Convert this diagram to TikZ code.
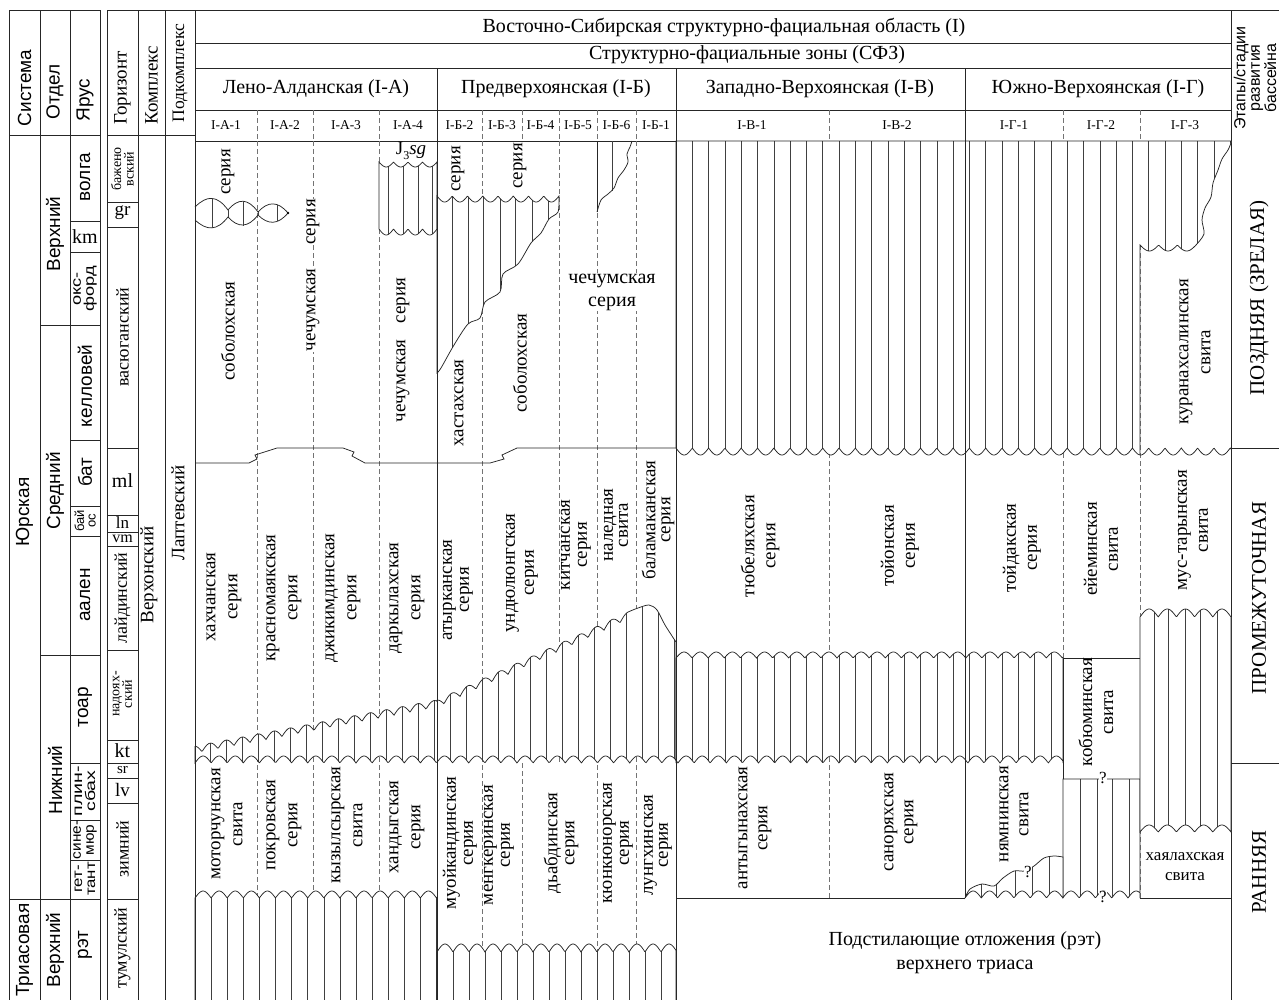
\documentclass[tikz,border=0pt]{standalone}
\usepackage{fontspec}
\usepackage{graphicx}
\setmainfont{Liberation Serif}
\newfontfamily\sansf{Liberation Sans}
\newcommand\fsz[2]{\fontsize{#1}{#2}\selectfont}
\tikzset{
 frame/.style={line width=0.9pt, draw=black!85},
 thinline/.style={line width=0.75pt, draw=black!85},
 hatchline/.style={line width=0.6pt, draw=black!75},
 dashln/.style={line width=0.6pt, draw=black!55, dash pattern=on 5pt off 3pt},
 tx/.style={inner sep=0pt, font=\fsz{#1}{#1}},
 txs/.style={inner sep=0pt, font=\sansf\fsz{#1}{#1}},
 rt/.style 2 args={rotate=90, align=center, inner sep=0.5pt, font=\fsz{#1}{#2}},
 rts/.style 2 args={rotate=90, align=center, inner sep=0.5pt, font=\sansf\fsz{#1}{#2}},
 wf/.style={fill=white},
}
\newcommand\hreg[2]{%
  \fill[white] #1;
  \begin{scope}\clip #1;
    \foreach \hx in {#2} {\draw[hatchline] (\hx,100) -- (\hx,1010);}
  \end{scope}
  \draw[thinline] #1;
}
\begin{document}
\begin{tikzpicture}[x=1pt,y=-1pt]
\useasboundingbox (0,0) rectangle (1279,999);

% ---------- left table 1 ----------
\draw[frame] (9,10) -- (100,10);
\foreach \xx in {9,40,70,100} \draw[frame] (\xx,10) -- (\xx,1005);
\draw[frame] (9,135) -- (100,135);
\draw[frame] (9,899) -- (100,899);
\draw[frame] (40,325) -- (100,325);
\draw[frame] (40,655) -- (100,655);
\foreach \yy in {221,252,440,506,536,763,820,860} \draw[thinline] (70,\yy) -- (100,\yy);

% ---------- left table 2 ----------
\draw[frame] (107,10) -- (1279,10);
\foreach \xx in {107,138,165,195} \draw[frame] (\xx,10) -- (\xx,1005);
\draw[frame] (107,135) -- (195,135);
\foreach \yy in {202,227,448,515,532,546,650,740,763,778,803,899} \draw[thinline] (107,\yy) -- (138,\yy);

% ---------- main header ----------
\foreach \yy in {43,68,110,141} \draw[frame] (195,\yy) -- (1231,\yy);
\draw[frame] (1231,10) -- (1231,1005);
\foreach \xx in {257,313,379,482,522,559,597,636,829,1063,1140} \draw[dashln] (\xx,110) -- (\xx,141);

% ---------- dashed sub-zone lines ----------
\foreach \xx in {257,313,379,482,597,636} \draw[dashln] (\xx,141) -- (\xx,1005);
\draw[dashln] (559,141) -- (559,763);
\draw[dashln] (522,763) -- (522,1005);
\foreach \xx in {829,1063,1140} \draw[dashln] (\xx,141) -- (\xx,898);

% ---------- hatched regions ----------
% J3sg block
\hreg{(379,162) -- plot[domain=379:437,samples=80,variable=\x] (\x,{162+5*abs(sin(((\x-379)/14.5)*180))}) -- (437,229) -- plot[domain=437:379,samples=80,variable=\x] (\x,{229+6*abs(sin(((\x-379)/14.5)*180))}) -- cycle}{388,403,418,432}
% I-B triangle
\hreg{(437,196) -- plot[domain=437:559,samples=150,variable=\x] (\x,{196+6*abs(sin(((\x-437)/15.25)*180))}) -- plot[smooth] coordinates {(559,197) (558,212) (549,219) (541,233) (531,243) (518,264) (503,274) (500,292) (485,302) (480,318) (468,324) (454,345) (441,368) (437,373)} -- cycle}{452,468,483,500,515,532,548}
% upper I-V / I-G big block
\hreg{(676,141) -- (1231,141) -- plot[smooth] coordinates {(1231,143) (1228,150) (1222,159) (1218,170) (1213,183) (1211,197) (1205,208) (1202,220) (1204,234) (1196,245)} -- plot[domain=1196:1140,samples=60,variable=\x] (\x,{245+6*abs(sin(((\x-1140)/18.67)*180))}) -- (1140,448) -- plot[domain=1140:676,samples=500,variable=\x] (\x,{448+7*abs(sin(((\x-676)/16.3)*180))}) -- cycle}{692.3,708.6,...,1231}
\draw[thinline] plot[domain=1140:1231,samples=120,variable=\x] (\x,{448+7*abs(sin(((\x-676)/16.3)*180))});
% sloping band I-A / I-B
\hreg{(195,746) -- plot[domain=195:437,samples=260,variable=\x] (\x,{753-0.19*(\x-195)-7*abs(sin(((\x-202)/16)*180))}) -- plot[domain=437:628,samples=200,variable=\x] (\x,{707-0.46*(\x-437)-7*abs(sin(((\x-444)/16)*180))}) -- plot[smooth] coordinates {(628,612) (638,608) (649,605) (657,610) (665,625) (676,642)} -- (676,763) -- plot[domain=676:195,samples=500,variable=\x] (\x,{763-7*abs(sin(((\x-195)/16.1)*180))}) -- cycle}{210,226,...,676}
% band I-V / I-G-1
\hreg{(676,658) -- plot[domain=676:1063,samples=400,variable=\x] (\x,{658-6*abs(sin(((\x-676)/16.1)*180))}) -- (1063,763) -- plot[domain=1063:676,samples=400,variable=\x] (\x,{763-7*abs(sin(((\x-195)/16.1)*180))}) -- cycle}{692.3,708.6,...,1063}
% kobyuminskaya box
\fill[white] (1063,658) rectangle (1140,779);
\draw[thinline] (1063,658) rectangle (1140,779);
% underlying deposits
\fill[white] (676,898) rectangle (1231,1005);
\draw[thinline] (676,898) -- (965,898);
\draw[thinline] (1140,898) -- (1231,898);
% I-G-2 lower
\hreg{(1063,779) -- (1140,779) -- (1140,898) -- plot[domain=1140:1063,samples=90,variable=\x] (\x,{898-7*abs(sin(((\x-965)/16.3)*180))}) -- cycle}{1080,1097,1112,1129}
% I-G-1 stair
\hreg{(965,898) -- plot[smooth] coordinates {(965,898) (970,889) (982,884) (994,886) (1003,878) (1014,871) (1025,871) (1034,866) (1044,858) (1054,856) (1063,857)} -- (1063,898) -- plot[domain=1063:965,samples=110,variable=\x] (\x,{898-7*abs(sin(((\x-965)/16.3)*180))}) -- cycle}{981,996,1015,1032,1049}
% I-G-3 middle
\hreg{(1140,617) -- plot[domain=1140:1231,samples=110,variable=\x] (\x,{617-8*abs(sin(((\x-1140)/18.2)*180))}) -- (1231,832) -- plot[domain=1231:1140,samples=110,variable=\x] (\x,{832-7*abs(sin(((\x-1140)/18.2)*180))}) -- cycle}{1154,1168,1185,1200,1217}
% I-A lower
\hreg{(195,898) -- plot[domain=195:437,samples=260,variable=\x] (\x,{898-7*abs(sin(((\x-195)/16.1)*180))}) -- (437,1010) -- (195,1010) -- cycle}{211.1,227.2,...,437}
% I-B lower
\hreg{(437,952) -- plot[domain=437:676,samples=260,variable=\x] (\x,{952-8*abs(sin(((\x-437)/16)*180))}) -- (676,1010) -- (437,1010) -- cycle}{453,469,...,676}

% ---------- boundary Upper/Middle in I-A, I-B ----------
\draw[thinline] (195,463) -- (249,463) -- (257,459) -- (255,455) -- (277,448) -- (343,448) -- (354,452) -- (352,456) -- (365,463) -- (490,463) -- (504,459) -- (502,455) -- (517,448) -- (676,448);

% lenses I-A-1/2
\draw[thinline] (195,207) .. controls (207,195) and (217,195) .. (228,210) .. controls (238,198) and (248,198) .. (258,212) .. controls (268,201) and (278,201) .. (288,213);
\draw[thinline] (195,220) .. controls (207,231) and (217,231) .. (228,217) .. controls (238,228) and (248,228) .. (258,215) .. controls (268,225) and (278,225) .. (288,213);
\draw[hatchline] (212,198) -- (212,228);
\draw[hatchline] (228,210) -- (228,217);
\draw[hatchline] (243,201) -- (243,226);
\draw[hatchline] (258,212) -- (258,215);
\draw[hatchline] (277,205) -- (277,221);
\fill (288,213) circle (1.3);

% I-B-6 top block
\draw[thinline] (597,141) -- (597,212);
\draw[hatchline] (612,141) -- (612,191);
\draw[thinline] plot[smooth] coordinates {(597,212) (601,200) (608,194) (614,188) (618,178) (624,170) (628,162) (627,154) (630,147) (632,141)};

% stage column
\draw[frame] (1231,448) -- (1279,448);
\draw[frame] (1231,763) -- (1279,763);

% zone borders
\draw[frame] (195,10) -- (195,1005);
\draw[frame] (437,68) -- (437,1005);
\draw[frame] (676,68) -- (676,1005);
\draw[frame] (965,68) -- (965,898);

% ---------- texts: left tables ----------
\node[rts={19}{19}] (hSys) at (24.5,88) {Система};
\node[rts={19}{19}] (hOtd) at (55,92) {Отдел};
\node[rts={19}{19}] (hYar) at (85,100) {Ярус};
\node[rt={19}{19}] (hGor) at (122.5,88) {Горизонт};
\node[rt={19}{19}] (hKom) at (151.5,85) {Комплекс};
\node[rt={17.5}{17.5}] (hPod) at (180,73) {Подкомплекс};

\node[rts={19}{19}] (sJ) at (24.5,512) {Юрская};
\node[rts={19}{19}] (sT) at (24.5,950) {Триасовая};
\node[rts={19}{19}] (oU) at (55,234) {Верхний};
\node[rts={19}{19}] (oM) at (55,491) {Средний};
\node[rts={19}{19}] (oL) at (55,780) {Нижний};
\node[rts={19}{19}] (oT) at (55,950) {Верхний};

\node[rts={19}{19}] (y1) at (85,177) {волга};
\node[tx=20] (y2) at (85,237) {km};
\node[rts={14}{13}] (y3) at (85,289) {\scalebox{1.3}[1]{окс-}\\\scalebox{1.3}[1]{форд}};
\node[rts={19}{19}] (y4) at (85,386) {келловей};
\node[rts={19}{19}] (y5) at (85,472) {бат};
\node[rts={13}{11.5}] (y6) at (85,521) {бай\\ос};
\node[rts={19}{19}] (y7) at (85,595) {аален};
\node[rts={19}{19}] (y8) at (85,707) {тоар};
\node[rts={14}{13}] (y9) at (85,791) {\scalebox{1.4}[1]{плин-}\\\scalebox{1.4}[1]{сбах}};
\node[rts={14}{13}] (y10) at (85,840) {\scalebox{1.1}[1]{сине-}\\\scalebox{1.1}[1]{мюр}};
\node[rts={14}{13}] (y11) at (85,879) {\scalebox{1.2}[1]{гет-}\\\scalebox{1.2}[1]{тант}};
\node[rts={19}{19}] (y12) at (85,945) {рэт};

\node[rt={14}{12.5}] (g1) at (122.5,169) {бажено\\вский};
\node[tx=19] (g2) at (122.5,213) {gr};
\node[rt={18}{18}] (g3) at (122.5,337) {васюганский};
\node[tx=20] (g4) at (122.5,481) {ml};
\node[tx=17] (g5) at (122.5,523) {ln};
\node[tx=16] (g6) at (122.5,539) {vm};
\node[rt={18}{18}] (g7) at (122.5,598) {лайдинский};
\node[rt={14}{12.5}] (g8) at (122.5,694) {надоях-\\ский};
\node[tx=20] (g9) at (122.5,751) {kt};
\node[tx=15] (g10) at (122.5,770) {sr};
\node[tx=19] (g11) at (122.5,790) {lv};
\node[rt={18}{18}] (g12) at (122.5,849) {зимний};
\node[rt={18}{18}] (g13) at (122.5,948) {тумулский};

\node[rt={19}{19}] (k1) at (149,575) {Верхонский};
\node[rt={19}{19}] (k2) at (178,513) {Лаптевский};

% ---------- texts: main header ----------
\node[tx=20] (h1) at (724,27) {Восточно-Сибирская структурно-фациальная область (I)};
\node[tx=20] (h2) at (747,55) {Структурно-фациальные зоны (СФЗ)};
\node[tx=20] (z1) at (316,89) {Лено-Алданская (I-А)};
\node[tx=20] (z2) at (556,89) {Предверхоянская (I-Б)};
\node[tx=20] (z3) at (820,89) {Западно-Верхоянская (I-В)};
\node[tx=20] (z4) at (1098,89) {Южно-Верхоянская (I-Г)};
\node[tx=13.5] (s1) at (226,125.5) {I-А-1};
\node[tx=13.5] (s2) at (285,125.5) {I-А-2};
\node[tx=13.5] (s3) at (346,125.5) {I-А-3};
\node[tx=13.5] (s4) at (408,125.5) {I-А-4};
\node[tx=13.5] (s5) at (459.5,125.5) {I-Б-2};
\node[tx=13.5] (s6) at (502,125.5) {I-Б-3};
\node[tx=13.5] (s7) at (540.5,125.5) {I-Б-4};
\node[tx=13.5] (s8) at (578,125.5) {I-Б-5};
\node[tx=13.5] (s9) at (616.5,125.5) {I-Б-6};
\node[tx=13.5] (s10) at (656,125.5) {I-Б-1};
\node[tx=13.5] (s11) at (752,125.5) {I-В-1};
\node[tx=13.5] (s12) at (897,125.5) {I-В-2};
\node[tx=13.5] (s13) at (1014,125.5) {I-Г-1};
\node[tx=13.5] (s14) at (1101,125.5) {I-Г-2};
\node[tx=13.5] (s15) at (1185,125.5) {I-Г-3};
\node[rts={16}{14.5}] (st) at (1255,78) {Этапы/стадии\\развития\\бассейна};

% ---------- texts: upper ----------
\node[rt={19}{19}] (u1) at (228,172) {серия};
\node[rt={19}{19}] (u2) at (228,331) {соболохская};
\node[rt={19}{19}, wf] (u3) at (313,222) {серия};
\node[rt={19}{19}, wf] (u4) at (313,310) {чечумская};
\node[rt={19}{19}] (u5) at (403,350) {чечумская\hspace{16pt}серия};
\node[tx=19] (u6) at (411,151) {J\raisebox{-0.25em}{\fsz{12}{12}3}\textit{sg}};
\node[rt={19}{19}] (u7) at (458,169) {серия};
\node[rt={19}{19}] (u8) at (459,403) {хастахская};
\node[rt={19}{19}] (u9) at (520,166) {серия};
\node[rt={19}{19}] (u10) at (520,363) {соболохская};
\node[tx=20, align=center, font=\fsz{20}{23}, fill=white, inner sep=1pt] (u11) at (612,292) {чечумская\\серия};
\node[rt={19}{22}] (u12) at (1195,352) {куранахсалинская\\свита};
\node[rt={21}{21}] (u13) at (1259,298) {ПОЗДНЯЯ (ЗРЕЛАЯ)};

% ---------- texts: middle ----------
\node[rt={19}{22}] (m1) at (224,597) {хахчанская\\серия};
\node[rt={19}{22}] (m2) at (284,598) {красномаякская\\серия};
\node[rt={19}{22}] (m3) at (343,598) {джикимдинская\\серия};
\node[rt={19}{22}] (m4) at (407,598) {даркылахская\\серия};
\node[rt={19}{17}] (m5) at (458,590) {атырканская\\серия};
\node[rt={19}{19}] (m6) at (522,573) {ундюлюнгская\\серия};
\node[rt={19}{17}] (m7) at (576,545) {китчанская\\серия};
\node[rt={19}{15}] (m8) at (616,525) {наледная\\свита};
\node[rt={19}{15}] (m9) at (658,520) {баламаканская\\серия};
\node[rt={19}{21}] (m10) at (760,546) {тюбеляхская\\серия};
\node[rt={19}{21}] (m11) at (900,546) {тойонская\\серия};
\node[rt={19}{21}] (m12) at (1022,548) {тойдакская\\серия};
\node[rt={19}{21}] (m13) at (1101,549) {ейеминская\\свита};
\node[rt={19}{21}] (m14) at (1193,530) {мус-тарынская\\свита};
\node[rt={21}{21}] (m15) at (1259,598) {ПРОМЕЖУТОЧНАЯ};
\node[rt={19}{21}] (m16) at (1096,712) {кобюминская\\свита};

% ---------- texts: lower ----------
\node[rt={19}{22}] (l1) at (227,824) {моторчунская\\свита};
\node[rt={19}{22}] (l2) at (284,825) {покровская\\серия};
\node[rt={19}{22}] (l3) at (347,825) {кызылсырская\\свита};
\node[rt={19}{22}] (l4) at (407,827) {хандыгская\\серия};
\node[rt={19}{17}] (l5) at (460,843) {муойкандинская\\серия};
\node[rt={19}{17}] (l6) at (499,845) {менгкеринская\\серия};
\node[rt={19}{17}] (l7) at (561,843) {дьабдинская\\серия};
\node[rt={19}{17}] (l8) at (618,843) {кюнкюнорская\\серия};
\node[rt={19}{15}] (l9) at (658,845) {лунгхинская\\серия};
\node[rt={19}{20}] (l10) at (755,828) {антыгынахская\\серия};
\node[rt={19}{20}] (l11) at (901,822) {саноряхская\\серия};
\node[rt={19}{20}] (l12) at (1014,814) {нямнинская\\свита};
\node[align=center, inner sep=0pt, font=\fsz{17}{20}] (l13) at (1185,867) {хаялахская\\свита};
\node[align=center, inner sep=0pt, font=\fsz{20}{24}] (l14) at (965,953) {Подстилающие отложения (рэт)\\верхнего триаса};
\node[rt={21}{21}] (l15) at (1259,872) {РАННЯЯ};
\node[tx=17, fill=white, inner sep=0.5pt] (q1) at (1028,872) {?};
\node[tx=17, fill=white, inner sep=0.5pt] (q2) at (1103,778) {?};
\node[tx=17, fill=white, inner sep=0.5pt] (q3) at (1103,897) {?};
\end{tikzpicture}
\end{document}
